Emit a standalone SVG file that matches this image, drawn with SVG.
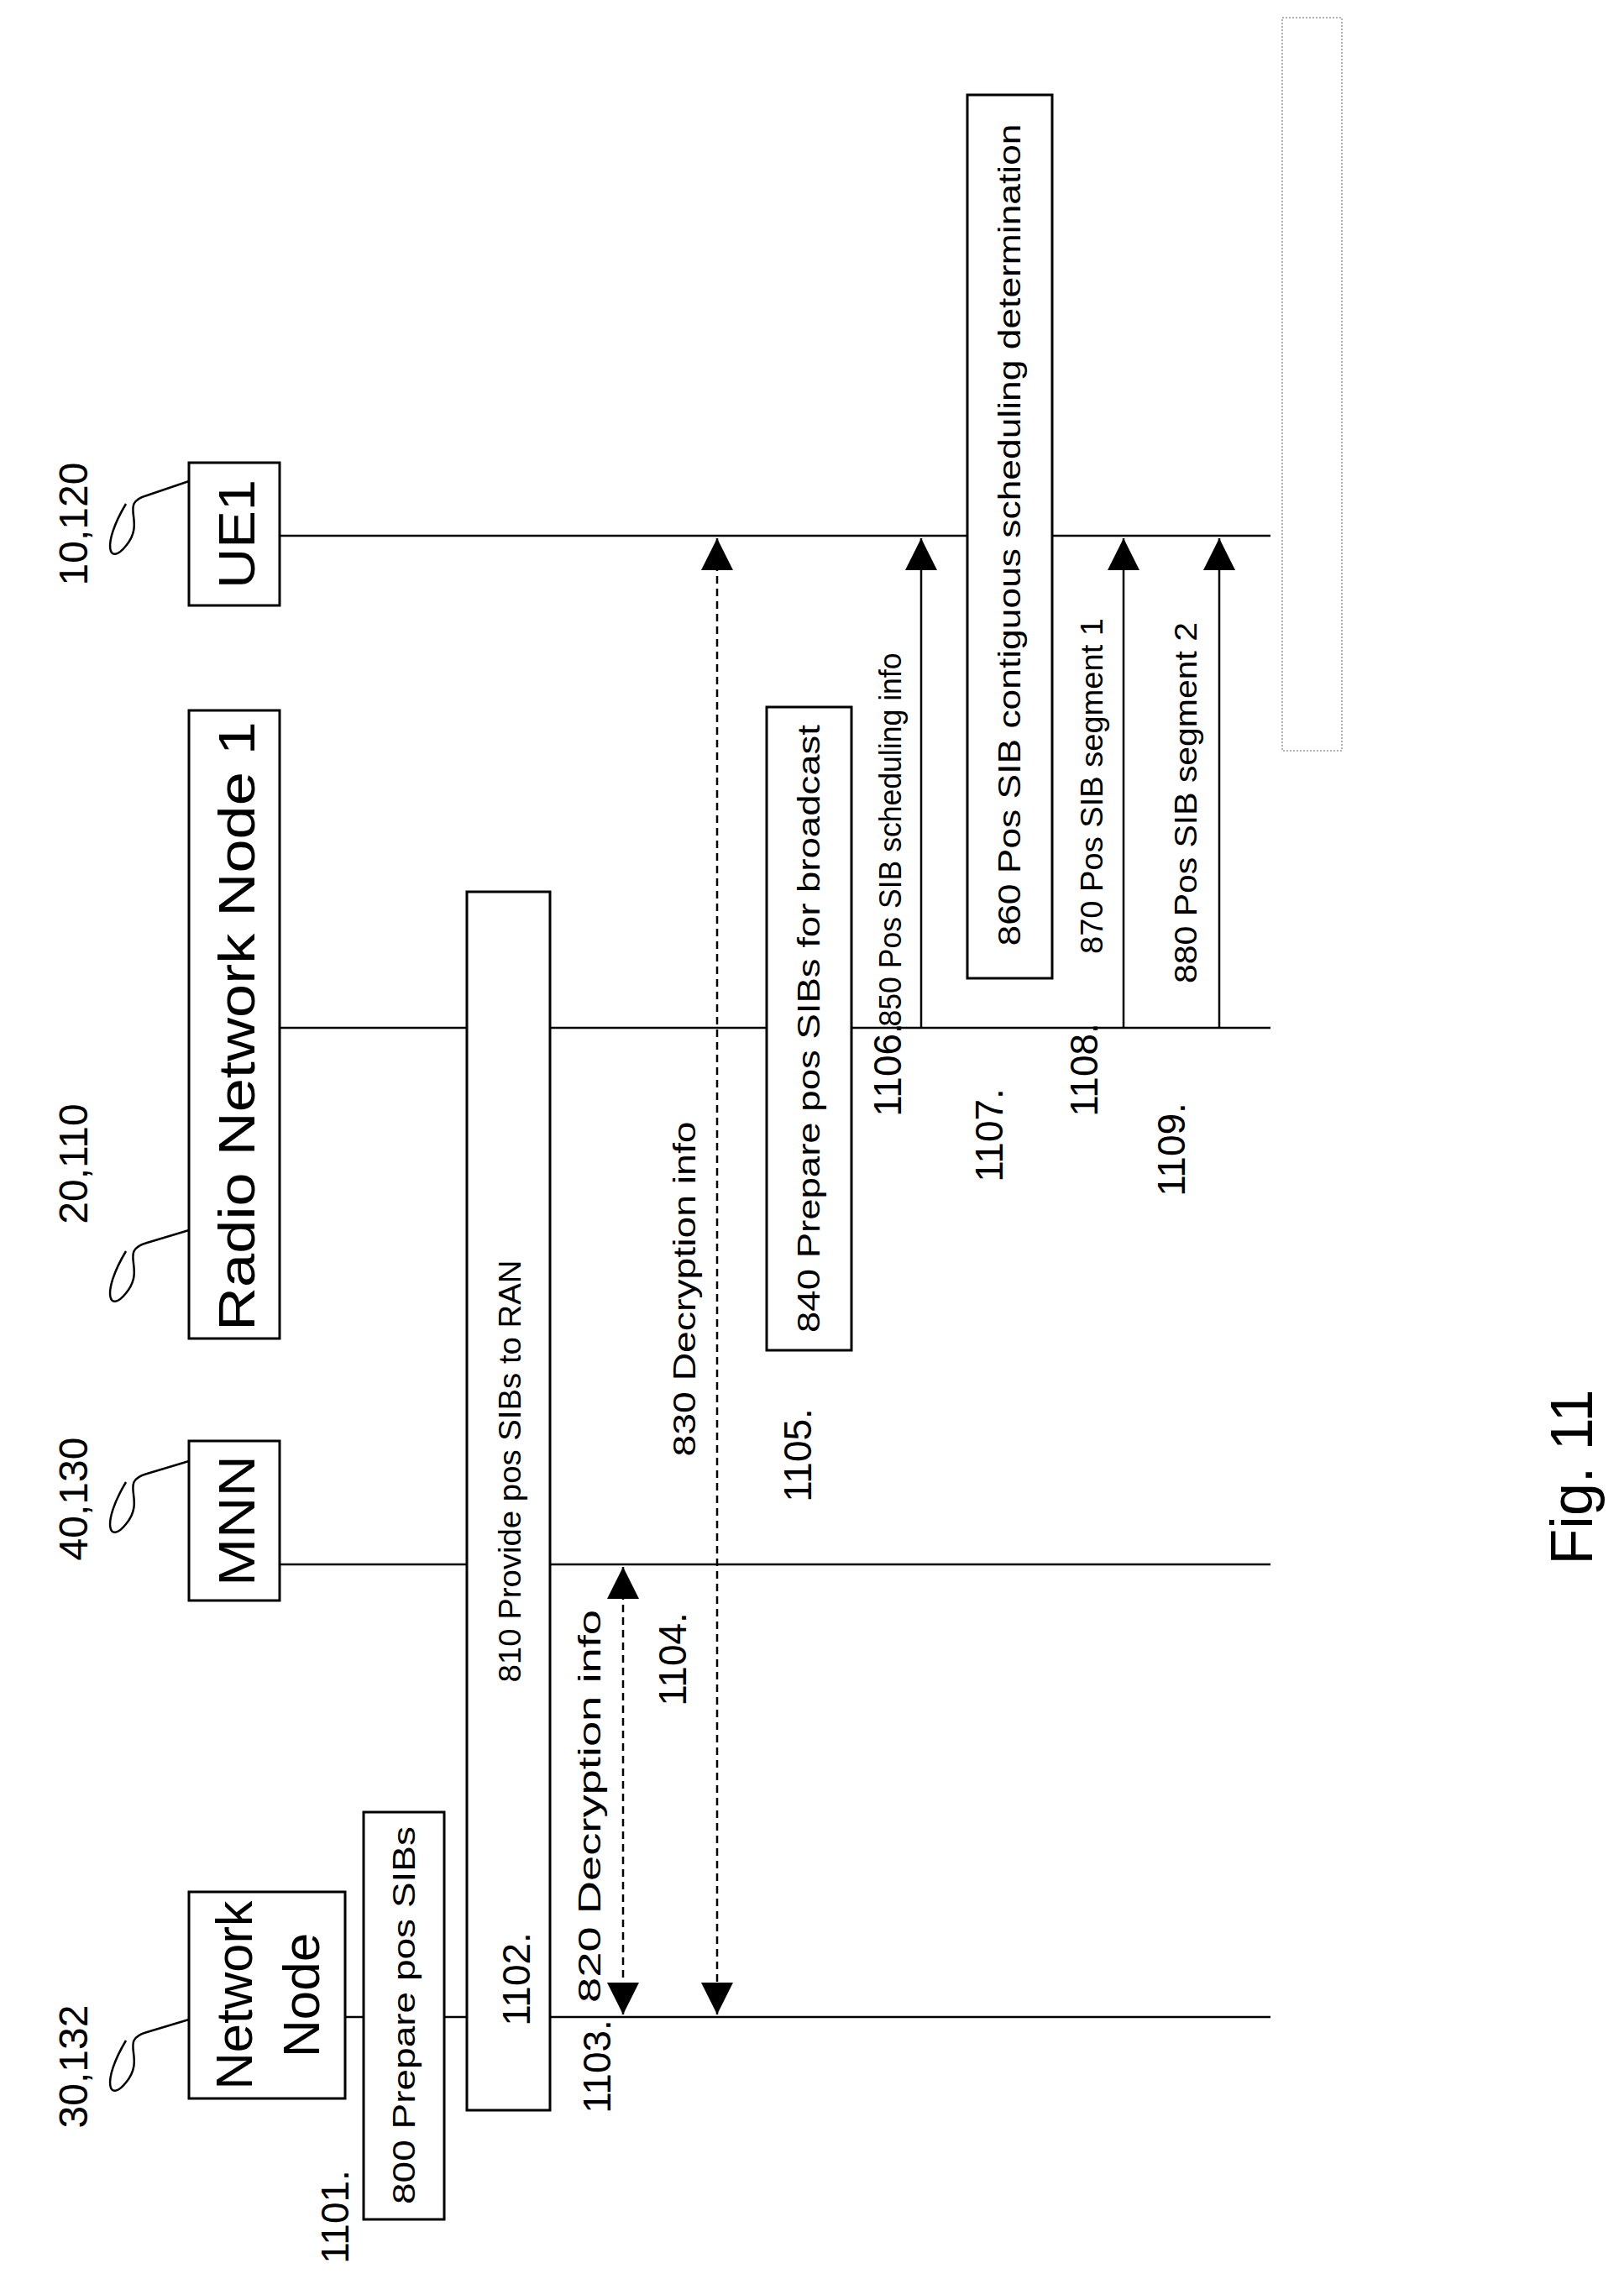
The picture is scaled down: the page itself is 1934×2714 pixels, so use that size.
<svg xmlns="http://www.w3.org/2000/svg" width="1934" height="2714" viewBox="0 0 1934 2714">
<style>
text{font-family:"Liberation Sans",Arial,sans-serif;fill:#000;text-anchor:middle;dominant-baseline:central}
.big{font-size:62px}.msg{font-size:36px}.num{font-size:46px}.ref{font-size:48px}
.box{fill:#fff;stroke:#000;stroke-width:3}
.life{stroke:#000;stroke-width:2.5;fill:none}
.sq{stroke:#000;stroke-width:2.5;fill:none}
.dash{stroke:#000;stroke-width:2.5;stroke-dasharray:9,6;fill:none}
.sol{stroke:#000;stroke-width:2.5;fill:none}
</style>
<defs>
<marker id="ah" viewBox="0 0 10 10" refX="10" refY="5" markerWidth="38" markerHeight="38" markerUnits="userSpaceOnUse" orient="auto-start-reverse"><path d="M0,0 L10,5 L0,10 Z" fill="#000"/></marker>
</defs>
<rect x="1527" y="21" width="71" height="873" fill="#fff" stroke="#999" stroke-width="1.5" stroke-dasharray="2,2"/>
<g id="lifelines">
<line class="life" x1="333" y1="638" x2="1513" y2="638"/>
<line class="life" x1="333" y1="1224" x2="1513" y2="1224"/>
<line class="life" x1="333" y1="1863" x2="1513" y2="1863"/>
<line class="life" x1="411" y1="2402" x2="1513" y2="2402"/>
</g>
<g id="ue1"><rect class="box" x="225" y="551" width="108" height="170"/><text class="big" transform="translate(281,636) rotate(-90)" textLength="130" lengthAdjust="spacingAndGlyphs">UE1</text>
<text class="ref" transform="translate(87,624) rotate(-90)">10,120</text>
<path class="sq" d="M225,573 L175,590 C140,600 175,620 150,650 C130,675 120,650 150,600"/></g>
<g id="rnn1"><rect class="box" x="225" y="846" width="108" height="748"/><text class="big" transform="translate(281,1222) rotate(-90)" textLength="726" lengthAdjust="spacingAndGlyphs">Radio Network Node 1</text>
<text class="ref" transform="translate(87,1386) rotate(-90)">20,110</text>
<path class="sq" d="M225,1465 L175,1480 C140,1490 175,1510 150,1540 C130,1565 120,1540 150,1490"/></g>
<g id="mnn"><rect class="box" x="225" y="1716" width="108" height="190"/><text class="big" transform="translate(281,1811) rotate(-90)" textLength="156" lengthAdjust="spacingAndGlyphs">MNN</text>
<text class="ref" transform="translate(87,1785) rotate(-90)">40,130</text>
<path class="sq" d="M225,1740 L175,1755 C140,1765 175,1785 150,1815 C130,1840 120,1815 150,1765"/></g>
<g id="nn"><rect class="box" x="225" y="2253" width="186" height="246"/><text class="big" transform="translate(278,2376) rotate(-90)" textLength="225" lengthAdjust="spacingAndGlyphs">Network</text><text class="big" transform="translate(358,2376) rotate(-90)">Node</text>
<text class="ref" transform="translate(87,2461) rotate(-90)">30,132</text>
<path class="sq" d="M225,2405 L175,2420 C140,2430 175,2450 150,2480 C130,2505 120,2480 150,2430"/></g>
<g id="s800"><rect class="box" x="433" y="2158" width="96" height="485"/><text class="msg" transform="translate(481,2400) rotate(-90)" textLength="450" lengthAdjust="spacingAndGlyphs">800 Prepare pos SIBs</text></g>
<g id="s810"><rect class="box" x="556" y="1062" width="99" height="1451"/><text class="msg" transform="translate(607,1752) rotate(-90)" textLength="503" lengthAdjust="spacingAndGlyphs">810 Provide pos SIBs to RAN</text></g>
<g id="s840"><rect class="box" x="913" y="842" width="101" height="766"/><text class="msg" transform="translate(963,1225) rotate(-90)" textLength="724" lengthAdjust="spacingAndGlyphs">840 Prepare pos SIBs for broadcast</text></g>
<g id="s860"><rect class="box" x="1152" y="113" width="101" height="1052"/><text class="msg" transform="translate(1202,637) rotate(-90)" textLength="979" lengthAdjust="spacingAndGlyphs">860 Pos SIB contiguous scheduling determination</text></g>
<g id="connectors">
<line class="dash" x1="742" y1="1866" x2="742" y2="2399" marker-start="url(#ah)" marker-end="url(#ah)"/>
<line class="dash" x1="854" y1="641" x2="854" y2="2399" marker-start="url(#ah)" marker-end="url(#ah)"/>
<line class="sol" x1="1097" y1="1224" x2="1097" y2="641" marker-end="url(#ah)"/>
<line class="sol" x1="1338" y1="1224" x2="1338" y2="641" marker-end="url(#ah)"/>
<line class="sol" x1="1452" y1="1224" x2="1452" y2="641" marker-end="url(#ah)"/>
</g>
<g id="labels">
<text class="msg" transform="translate(702,2151) rotate(-90)" textLength="468" lengthAdjust="spacingAndGlyphs">820 Decryption info</text>
<text class="msg" transform="translate(815,1535) rotate(-90)" textLength="399" lengthAdjust="spacingAndGlyphs">830 Decryption info</text>
<text class="msg" transform="translate(1060,1000) rotate(-90)" textLength="445" lengthAdjust="spacingAndGlyphs">850 Pos SIB scheduling info</text>
<text class="msg" transform="translate(1300,936) rotate(-90)" textLength="400" lengthAdjust="spacingAndGlyphs">870 Pos SIB segment 1</text>
<text class="msg" transform="translate(1412,956) rotate(-90)" textLength="430" lengthAdjust="spacingAndGlyphs">880 Pos SIB segment 2</text>
<text class="num" transform="translate(399,2640) rotate(-90)">1101.</text>
<text class="num" transform="translate(615,2357) rotate(-90)">1102.</text>
<text class="num" transform="translate(711,2461) rotate(-90)">1103.</text>
<text class="num" transform="translate(801,1976) rotate(-90)">1104.</text>
<text class="num" transform="translate(950,1733) rotate(-90)">1105.</text>
<text class="num" transform="translate(1057,1274) rotate(-90)">1106.</text>
<text class="num" transform="translate(1178,1352) rotate(-90)">1107.</text>
<text class="num" transform="translate(1291,1274) rotate(-90)">1108.</text>
<text class="num" transform="translate(1395,1369) rotate(-90)">1109.</text>
<text style="font-size:70px" transform="translate(1872,1759) rotate(-90)">Fig. 11</text>
</g>
</svg>
